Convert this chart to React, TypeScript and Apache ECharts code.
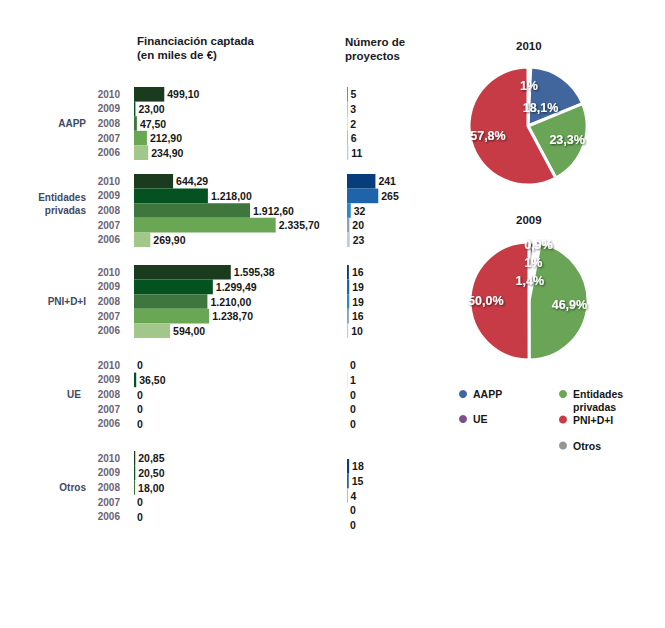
import React, { useEffect, useRef } from 'react';
import * as echarts from 'echarts';

// ---------- data ----------
const years = ['2010', '2009', '2008', '2007', '2006'];
const groupNames = ['AAPP', 'Entidades privadas', 'PNI+D+I', 'UE', 'Otros'];

// Financiación captada (miles de €), rows 2010..2006
const fundAAPP = [499.1, 23.0, 47.5, 212.9, 234.9];
const fundEntidades = [644.29, 1218.0, 1912.6, 2335.7, 269.9];
const fundPNI = [1595.38, 1299.49, 1210.0, 1238.7, 594.0];
const fundUE = [0, 36.5, 0, 0, 0];
const fundOtros = [20.85, 20.5, 18.0, 0, 0];

// Número de proyectos, rows 2010..2006
const projAAPP = [5, 3, 2, 6, 11];
const projEntidades = [241, 265, 32, 20, 23];
const projPNI = [16, 19, 19, 16, 10];
const projUE = [0, 1, 0, 0, 0];
const projOtros = [18, 15, 4, 0, 0];

const pieYears = ['2010', '2009'];

// ---------- styles ----------
const FONT = '"Liberation Sans", Arial, Helvetica, sans-serif';
const fundColors = ['#1b3b1f', '#03521f', '#3e763d', '#6aa755', '#a2c78b'];
const projColors = ['#083d7c', '#1e64ab', '#2a8bc4', '#8c9fc4', '#b8cde3'];
const groupColors: Record<string, string> = {
  AAPP: '#41669d',
  'Entidades privadas': '#6aa557',
  UE: '#7d4f91',
  'PNI+D+I': '#c63b45',
  Otros: '#959595',
};
const YEAR_COLOR = '#6b6473';
const GROUP_COLOR = '#3e4965';
const TEXT_COLOR = '#161616';

function fmtEs(v: number): string {
  if (v === 0) return '0';
  const [i, d] = v.toFixed(2).split('.');
  return i.replace(/\B(?=(\d{3})+(?!\d))/g, '.') + ',' + d;
}

export default function App() {
  const ref = useRef<HTMLDivElement>(null);
  useEffect(() => {
    document.body.style.margin = '0';
    const chart = echarts.init(ref.current!, null, { renderer: 'svg' });

    const fundSets = [fundAAPP, fundEntidades, fundPNI, fundUE, fundOtros];
    const projSets = [projAAPP, projEntidades, projPNI, projUE, projOtros];
    const groupLabels = ['AAPP', 'Entidades\nprivadas\n ', 'PNI+D+I', 'UE', 'Otros'];
    const fundTops = [87, 174, 265, 358, 451];
    const projTops = [87, 174, 265, 358, 459];
    const groupMargins = [48, 48, 48, 53, 48];

    const grid: any[] = [];
    const xAxis: any[] = [];
    const yAxis: any[] = [];
    const series: any[] = [];

    const valueLabel = {
      show: true,
      position: 'right',
      distance: 3,
      color: TEXT_COLOR,
      fontFamily: FONT,
      fontWeight: 'bold',
      fontSize: 10.5,
    };

    for (let g = 0; g < 5; g++) {
      grid.push({ left: 134, top: fundTops[g], width: 182, height: 73 });
      grid.push({ left: 347, top: projTops[g], width: 118, height: 73 });
      xAxis.push({ type: 'value', gridIndex: 2 * g, min: 0, max: 3000, show: false });
      xAxis.push({ type: 'value', gridIndex: 2 * g + 1, min: 0, max: 1000, show: false });
      yAxis.push({
        type: 'category',
        gridIndex: 2 * g,
        data: years,
        inverse: true,
        axisLine: { show: false },
        axisTick: { show: false },
        axisLabel: {
          interval: 0,
          margin: 14,
          color: YEAR_COLOR,
          fontFamily: FONT,
          fontWeight: 'bold',
          fontSize: 10,
        },
      });
      yAxis.push({
        type: 'category',
        gridIndex: 2 * g,
        data: years,
        inverse: true,
        position: 'left',
        axisLine: { show: false },
        axisTick: { show: false },
        axisLabel: {
          interval: 0,
          margin: groupMargins[g],
          color: GROUP_COLOR,
          fontFamily: FONT,
          fontWeight: 'bold',
          fontSize: 10,
          lineHeight: 13,
          formatter: (_v: string, i: number) => (i === 2 ? groupLabels[g] : ''),
        },
      });
      yAxis.push({
        type: 'category',
        gridIndex: 2 * g + 1,
        data: years,
        inverse: true,
        show: false,
      });
      series.push({
        type: 'bar',
        name: 'fin-' + groupNames[g],
        xAxisIndex: 2 * g,
        yAxisIndex: 3 * g,
        barCategoryGap: '0%',
        silent: true,
        data: fundSets[g].map((v, i) => ({ value: v, itemStyle: { color: fundColors[i] } })),
        label: { ...valueLabel, formatter: (p: any) => fmtEs(p.value) },
      });
      series.push({
        type: 'bar',
        name: 'proy-' + groupNames[g],
        xAxisIndex: 2 * g + 1,
        yAxisIndex: 3 * g + 2,
        barCategoryGap: '0%',
        silent: true,
        data: projSets[g].map((v, i) => ({ value: v, itemStyle: { color: projColors[i] } })),
        label: { ...valueLabel, formatter: (p: any) => String(p.value) },
      });
    }

    // pies: slice order clockwise from 12 o'clock
    const pieOrder = [3, 4, 0, 1, 2]; // UE, Otros, AAPP, Entidades, PNI
    const pieCenters = [
      [528, 126],
      [529, 301],
    ];
    const pieRadius = 59;
    // radial placement factor of each label (relative to default inside position)
    const labelFactors = [
      [1, 1.23, 0.67, 1.28, 1.27],
      [0.61, 1.19, 1.75, 1.25, 1.33],
    ];

    pieYears.forEach((yr, k) => {
      const yi = years.indexOf(yr);
      const total = fundSets.reduce((s, arr) => s + arr[yi], 0);
      const [cx, cy] = pieCenters[k];
      series.push({
        type: 'pie',
        name: yr,
        center: pieCenters[k],
        radius: pieRadius,
        startAngle: 90,
        clockwise: true,
        silent: true,
        data: pieOrder.map((gi) => ({
          name: groupNames[gi],
          value: fundSets[gi][yi],
          itemStyle: { color: groupColors[groupNames[gi]] },
        })),
        itemStyle: { borderColor: '#ffffff', borderWidth: 3 },
        label: {
          show: true,
          position: 'inside',
          color: '#ffffff',
          fontFamily: FONT,
          fontWeight: 'bold',
          fontSize: 12.5,
          textShadowColor: 'rgba(0,0,0,0.65)',
          textShadowBlur: 2,
          textShadowOffsetX: 1,
          textShadowOffsetY: 1,
          formatter: (p: any) => {
            if (!p.value) return '';
            const pct = (p.value / total) * 100;
            if (p.name === 'Otros') return Math.round(pct) + '%';
            return pct.toFixed(1).replace('.', ',') + '%';
          },
        },
        labelLine: { show: false },
        labelLayout: (p: any) => {
          const r = p.labelRect;
          const lx = r.x + r.width / 2;
          const ly = r.y + r.height / 2;
          const f = labelFactors[k][p.dataIndex];
          return {
            x: cx + f * (lx - cx),
            y: cy + f * (ly - cy),
            align: 'center',
            verticalAlign: 'middle',
          };
        },
      });
    });

    const legendText = {
      color: TEXT_COLOR,
      fontFamily: FONT,
      fontWeight: 'bold',
      fontSize: 10.5,
      lineHeight: 13,
    };
    const legendBase = {
      orient: 'vertical',
      icon: 'circle',
      itemWidth: 10,
      itemHeight: 10,
      padding: 0,
      selectedMode: false,
      textStyle: legendText,
    };

    const titleStyle = {
      color: '#1a1a24',
      fontFamily: FONT,
      fontWeight: 'bold',
      fontSize: 11.5,
      lineHeight: 14,
    };

    const option: any = {
      animation: false,
      backgroundColor: '#ffffff',
      title: [
        { text: 'Financiación captada\n(en miles de €)', left: 137, top: 34, padding: 0, textStyle: titleStyle },
        { text: 'Número de\nproyectos', left: 345, top: 35, padding: 0, textStyle: titleStyle },
        { text: pieYears[0], left: 516, top: 39, padding: 0, textStyle: titleStyle },
        { text: pieYears[1], left: 516, top: 213, padding: 0, textStyle: titleStyle },
      ],
      legend: [
        { ...legendBase, left: 457, top: 387.5, itemGap: 12, data: ['AAPP', 'UE'] },
        {
          ...legendBase,
          left: 557,
          top: 374.5,
          data: ['Entidades privadas'],
          formatter: () => ' \nEntidades\nprivadas',
        },
        { ...legendBase, left: 557, top: 413, itemGap: 13, data: ['PNI+D+I', 'Otros'] },
      ],
      grid,
      xAxis,
      yAxis,
      series,
    };

    chart.setOption(option);
    return () => chart.dispose();
  }, []);

  return <div ref={ref} style={{ width: 665, height: 628 }} />;
}
